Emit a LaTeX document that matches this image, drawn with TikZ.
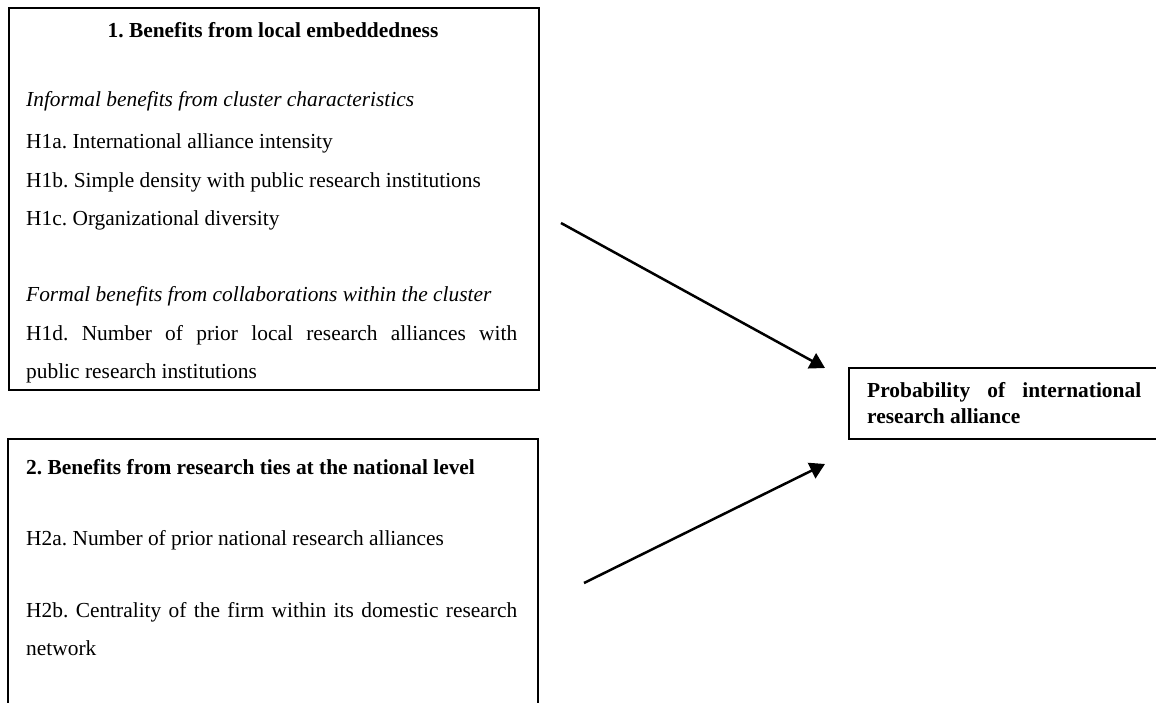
\documentclass[tikz,border=0pt]{standalone}
\usepackage{fontspec}
\setmainfont{Liberation Serif}
\usetikzlibrary{arrows.meta}
\frenchspacing
\begin{document}
\begin{tikzpicture}[x=1pt,y=-1pt,
  boxline/.style={line width=1.6pt},
  txt/.style={anchor=base west,inner sep=0pt,font=\fontsize{21.4}{25}\selectfont\frenchspacing},
  head/.style={txt,font=\fontsize{21.4}{25}\selectfont\bfseries\frenchspacing},
  conn/.style={line width=2.5pt,-{Triangle[length=15pt,width=17pt]}}]
\useasboundingbox (0,0) rectangle (1156,702);
% box 1
\node[draw,boxline,minimum width=530pt,minimum height=382pt,anchor=north west,inner sep=0pt] (box1) at (8,7) {};
\node[head,anchor=base] (t1) at (273,37) {1. Benefits from local embeddedness};
\node[txt] (i1) at (26,106) {\itshape Informal benefits from cluster characteristics};
\node[txt] (h1a) at (26,148) {H1a. International alliance intensity};
\node[txt] (h1b) at (26,187) {H1b. Simple density with public research institutions};
\node[txt] (h1c) at (26,225) {H1c. Organizational diversity};
\node[txt] (f1) at (26,301) {\itshape Formal benefits from collaborations within the cluster};
\node[txt] (h1d) at (26,340) {\hbox to 491pt{H1d. Number of prior local research alliances with}};
\node[txt] (h1d2) at (26,378) {public research institutions};
% box 2 (open at bottom)
\coordinate (b2a) at (8,710);
\coordinate (b2b) at (8,439);
\coordinate (b2c) at (538,439);
\coordinate (b2d) at (538,710);
\draw[boxline] (b2a) -- (b2b) -- (b2c) -- (b2d);
\node[head] (t2) at (26,474) {2. Benefits from research ties at the national level};
\node[txt] (h2a) at (26,545) {H2a. Number of prior national research alliances};
\node[txt] (h2b) at (26,617) {\hbox to 491pt{H2b. Centrality of the firm within its domestic research}};
\node[txt] (h2b2) at (26,655) {network};
% outcome box (open at right)
\coordinate (o1) at (1160,368);
\coordinate (o2) at (849,368);
\coordinate (o3) at (849,439);
\coordinate (o4) at (1160,439);
\draw[line width=1.4pt] (o1) -- (o2) -- (o3) -- (o4);
\node[head] (p1) at (867,397) {\hbox to 274pt{Probability of international}};
\node[head] (p2) at (867,423) {research alliance};
% arrows
\coordinate (a1s) at (561,223);
\coordinate (a1e) at (825,368);
\coordinate (a2s) at (584,583);
\coordinate (a2e) at (825,464);
\draw[conn] (a1s) -- (a1e);
\draw[conn] (a2s) -- (a2e);
\end{tikzpicture}
\end{document}
